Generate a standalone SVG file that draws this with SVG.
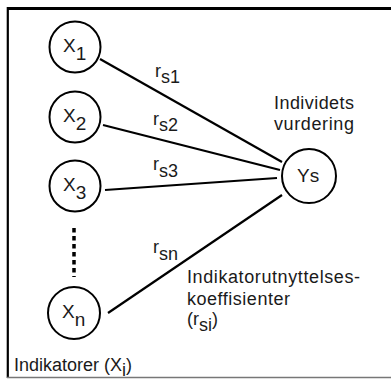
<svg xmlns="http://www.w3.org/2000/svg" width="391" height="379" viewBox="0 0 391 379">
  <style>
    .node { fill: #ffffff; stroke: #000000; stroke-width: 2; }
    .edge { stroke: #000000; stroke-width: 2.2; fill: none; }
    .t { font-family: "Liberation Sans", Arial, sans-serif; font-size: 18px; fill: #1a1a1a; }
    .n { font-size: 19px; }
  </style>
  <rect x="0" y="0" width="391" height="379" fill="#ffffff"/>

  <!-- frame -->
  <g id="frame">
    <line x1="7" y1="8.5" x2="391" y2="8.5" stroke="#000" stroke-width="3"/>
    <line x1="7.8" y1="7" x2="7.8" y2="378" stroke="#000" stroke-width="2.2"/>
    <line x1="7" y1="377.5" x2="391" y2="377.5" stroke="#777" stroke-width="1.5"/>
  </g>

  <!-- connectors -->
  <g id="connectors">
    <line class="edge" x1="100" y1="59" x2="282" y2="162"/>
    <line class="edge" x1="103" y1="125" x2="280" y2="170"/>
    <line class="edge" x1="105" y1="190" x2="277" y2="178"/>
    <line class="edge" x1="108" y1="313" x2="282" y2="195"/>
    <line x1="74" y1="228" x2="74" y2="277" stroke="#000" stroke-width="3.5" stroke-dasharray="4.5 3.5"/>
  </g>

  <!-- connector labels -->
  <g id="edge-labels" class="t">
    <text x="155" y="77">r<tspan y="83">s1</tspan></text>
    <text x="153" y="125">r<tspan y="131">s2</tspan></text>
    <text x="153" y="170">r<tspan y="177">s3</tspan></text>
    <text x="153" y="253">r<tspan y="260">sn</tspan></text>
  </g>

  <g id="x1">
    <circle class="node" cx="75" cy="47" r="25.5"/>
    <text class="t n" x="63" y="52">X<tspan y="60">1</tspan></text>
  </g>
  <g id="x2">
    <circle class="node" cx="75" cy="117" r="25.5"/>
    <text class="t n" x="63" y="122">X<tspan y="130">2</tspan></text>
  </g>
  <g id="x3">
    <circle class="node" cx="75" cy="186" r="25.5"/>
    <text class="t n" x="63" y="191">X<tspan y="199">3</tspan></text>
  </g>
  <g id="xn">
    <circle class="node" cx="74" cy="313" r="26"/>
    <text class="t n" x="62" y="318">X<tspan y="326">n</tspan></text>
  </g>
  <g id="ys">
    <circle class="node" cx="309" cy="176" r="27"/>
    <text class="t n" x="297" y="182">Ys</text>
  </g>

  <g id="labels" class="t">
    <text x="274" y="109" textLength="80" lengthAdjust="spacing">Individets</text>
    <text x="274" y="130" textLength="80" lengthAdjust="spacing">vurdering</text>
    <text x="187" y="283" textLength="173" lengthAdjust="spacing">Indikatorutnyttelses-</text>
    <text x="187" y="305" textLength="103" lengthAdjust="spacing">koeffisienter</text>
    <text x="187" y="325">(r<tspan y="331">si</tspan><tspan y="325">)</tspan></text>
    <text x="14" y="371">Indikatorer (X<tspan y="375.5">i</tspan><tspan y="371">)</tspan></text>
  </g>
</svg>
